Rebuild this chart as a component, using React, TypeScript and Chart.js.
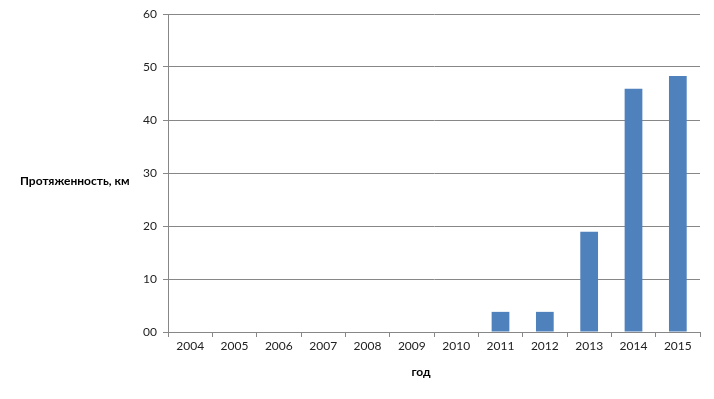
import React, { useEffect, useRef } from "react";
import { Chart, registerables } from "chart.js";

Chart.register(...registerables);

const years = ["2004", "2005", "2006", "2007", "2008", "2009", "2010", "2011", "2012", "2013", "2014", "2015"];
const lengths = [0, 0, 0, 0, 0, 0, 0, 3.8, 3.8, 18.9, 45.9, 48.3];
const yTickLabels: Record<number, string> = { 0: "00", 10: "10", 20: "20", 30: "30", 40: "40", 50: "50", 60: "60" };
const yTitle = "Протяженность, км";
const xTitle = "год";

const titlesPlugin = {
  id: "titles",
  afterDraw(chart: any) {
    const ctx = chart.ctx;
    const area = chart.chartArea;
    ctx.save();
    ctx.fillStyle = "#000";
    ctx.font = "bold 12px Lato";
    ctx.textBaseline = "middle";
    ctx.textAlign = "left";
    ctx.fillText(yTitle, 20, (area.top + area.bottom) / 2 + 8);
    ctx.textAlign = "center";
    ctx.fillText(xTitle, 421, 372);
    ctx.restore();
  },
};

export default function App() {
  const ref = useRef<HTMLCanvasElement>(null);
  useEffect(() => {
    if (!ref.current) return;
    const grid = "#878787";
    const chart = new Chart(ref.current, {
      type: "bar",
      data: {
        labels: years,
        datasets: [
          {
            data: lengths,
            backgroundColor: "#4F81BD",
            barPercentage: 0.4,
            categoryPercentage: 1,
          },
        ],
      },
      options: {
        animation: false,
        responsive: false,
        maintainAspectRatio: false,
        layout: { padding: { top: 14, right: 14, left: 0, bottom: 0 } },
        plugins: { legend: { display: false }, tooltip: { enabled: false } },
        scales: {
          x: {
            offset: true,
            grid: { offset: true, drawOnChartArea: false, drawTicks: true, tickLength: 5, color: grid },
            border: { color: grid },
            ticks: { color: "#222", font: { family: "Lato", size: 12 }, maxRotation: 0, padding: 2 },
            afterFit: (s: any) => { s.height = 67; },
          },
          y: {
            min: 0,
            max: 60,
            ticks: {
              stepSize: 10,
              color: "#222",
              font: { family: "Lato", size: 12 },
              padding: 6,
              callback: (v: any) => yTickLabels[v as number] ?? String(v),
            },
            grid: { color: grid, tickLength: 5 },
            border: { color: grid },
            afterFit: (s: any) => { s.width = 168; },
          },
        },
      },
      plugins: [titlesPlugin],
    });
    return () => chart.destroy();
  }, []);
  return (
    <div style={{ position: "absolute", left: 0, top: 0, width: 714, height: 399, background: "#fff" }}>
      <canvas ref={ref} width={714} height={399} style={{ width: 714, height: 399 }} />
    </div>
  );
}
